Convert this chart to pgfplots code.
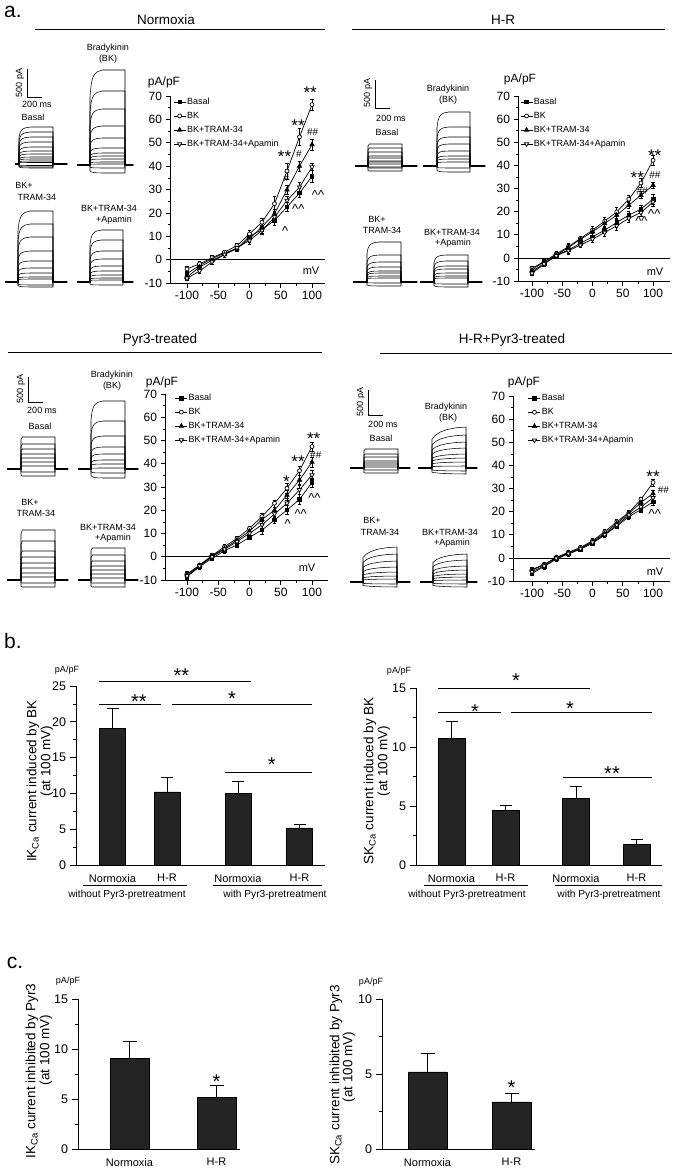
\documentclass[border=0pt]{standalone}
\usepackage{fontspec}
\setmainfont{Liberation Sans}
\usepackage{pgfplots}
\usepackage{pgfplotstable}
\pgfplotsset{compat=1.18}
\newcommand\fsz[1]{\fontsize{#1}{#1}\selectfont}

% ---------- I-V data: x, Basal, BK, BK+TRAM-34, BK+TRAM-34+Apamin (with SEM)
\pgfplotstableread{
x B Be K Ke T Te A Ae
-100 -6 1 -4 1 -7.5 1 -8 1
-80 -2.5 1 -1.8 1 -3.2 1 -4.9 1
-60 0.4 1 0.8 1 -0.3 1 -1 1
-40 2.8 1 3.2 1 2.2 1 2.2 1
-20 4.7 1 6 1 4.7 1 5.1 1
0 10 1.5 11 1.5 9 1.5 8.2 1.5
20 12.8 1.5 16 1.5 14 1.5 12.5 1.5
40 16.8 2 23.9 3 19.6 2 18.2 2
60 22.5 2 37.9 3.5 29.9 2 25.3 2
80 28.5 2 52.5 3.5 40 2 31 2
100 35.6 2.5 66.3 2.5 49.2 2.5 39.6 1.5
}\ivN
\pgfplotstableread{
x B Be K Ke T Te A Ae
-100 -6 1 -4.5 1 -5.3 1 -6.7 1
-80 -2.4 1 -1.6 1 -1.6 1 -2.7 1
-60 1.2 1 1.7 1 1.2 1 0.9 1
-40 3.4 1.5 4.8 1.5 4.5 1.5 3.1 1.5
-20 6.3 1 8.4 1 8 1 5.5 1
0 9.1 1.5 12 1.5 11.3 1.5 8.1 1.5
20 12 1.5 15.9 1.5 14.9 1.5 11 1.5
40 15.3 2 19.9 2 18.5 2 13.9 2
60 18.5 1.5 25.4 1.5 22.8 1.5 17.1 1.5
80 21.1 1.5 32.4 2 27.1 1.5 19.6 1.5
100 25.4 2 42.2 2 31.4 1.5 24.2 2
}\ivH
\pgfplotstableread{
x B Be K Ke T Te A Ae
-100 -8.6 1 -7.4 1 -7.8 1 -8.3 1
-80 -4.3 1 -3.6 1 -3.8 1 -4 1
-60 -0.7 1 0.5 1 0.3 1 0 1
-40 2.6 1 4.3 1 3.6 1 3.2 1
-20 5.1 1 7.9 1 7.2 1 6.5 1
0 8.4 1 12.2 1 11 1 10.1 1
20 11.5 2 17.3 1.5 16 1.5 13.7 1.5
40 15.8 1.5 23 1.5 20 1.5 18.4 1.5
60 20.1 2 29.5 2 26.5 2 23 2
80 24.7 2 37 2 33 2 28.8 2
100 31.9 2 47.4 2 40.7 2 35.2 2
}\ivP
\pgfplotstableread{
x B Be K Ke T Te A Ae
-100 -6.7 1 -5 1 -5.3 1 -6 1
-80 -3.8 1 -2.8 1 -3 1 -3.5 1
-60 -0.5 1 0.2 1 0 1 -0.2 1
-40 1.7 1 2.4 1 2.2 1 1.9 1
-20 3.7 1 4.5 1 4.1 1 4 1
0 6.3 1 7.4 1 7 1 6.7 1
20 9.9 1 11.3 1 10.6 1 10.1 1
40 13.7 1 15.6 1 14.9 1 14.2 1
60 17.8 1 19.6 1 19.2 1 18.5 1
80 20.9 1 25.3 1 24 1 22 1
100 24.2 1.5 32.6 1.5 27.8 1.5 26 1.5
}\ivHP

% ---------- normalised pulse shapes for the current traces
\pgfplotstableread{
t f
-20 0
0 0
0 0.72
0.03 0.84
0.07 0.91
0.12 0.95
0.2 0.98
0.35 1
1 1
1 0
20 0
}\shapeBK
\pgfplotstableread{
t f
-20 0
0 0
0 0.92
0.04 1
1 1
1 0
20 0
}\shapeFlat
\pgfplotstableread{
t f
-20 0
0 0
0 0.7
0.1 0.8
0.25 0.88
0.45 0.94
0.7 0.98
1 1
1 0
20 0
}\shapeSlow

\pgfplotsset{
  iv/.style={scale only axis, anchor=south west, ymin=-10, ymax=70,
    ytick={-10,0,...,70}, minor y tick num=1,
    xtick={-100,-50,0,50,100}, minor x tick num=1,
    axis x line*=bottom, axis y line*=left,
    axis line style={-, line width=0.7pt},
    tick align=outside, major tick length=4.5pt, minor tick length=2.5pt,
    tick style={black, line width=0.6pt},
    tick label style={font=\fsz{12}},
    /pgf/number format/assume math mode=true,
    clip=false, legend cell align=left,
    legend style={draw=none, fill=none, font=\fsz{9}, anchor=north west,
      inner sep=0pt, row sep=2.5pt,
      nodes={inner sep=1pt, text height=7pt, text depth=2.5pt}},
    legend image code/.code={\draw[mark repeat=2, mark phase=2, ##1]
      plot coordinates {(0pt,0pt)(6pt,0pt)(12pt,0pt)};},
  },
  ser/.style={black, line width=0.7pt,
    error bars/y dir=both, error bars/y explicit,
    error bars/error bar style={line width=0.5pt, black},
    error bars/error mark options={rotate=90, mark size=1.6pt, line width=0.5pt, black}},
  basal/.style={ser, mark=square*, mark size=1.8pt},
  bk/.style={ser, mark=*, mark size=2pt, mark options={fill=white}},
  tram/.style={ser, mark=triangle*, mark size=2.5pt},
  apa/.style={ser, mark=triangle*, mark size=2.5pt, mark options={fill=white, rotate=180}},
  bst/.style={scale only axis, anchor=south west, xmin=0, ymin=0,
    axis x line*=bottom, axis y line*=left,
    axis line style={-, line width=0.8pt},
    tick align=outside, minor y tick num=1,
    major tick length=6.5pt, minor tick length=3.5pt,
    x tick style={draw=none}, y tick style={black, line width=0.7pt},
    tick label style={font=\fsz{12.5}},
    xticklabel style={font=\fsz{11}, yshift=1pt},
    /pgf/number format/assume math mode=true, clip=false},
  barst/.style={ybar, fill=black!86, draw=black, line width=0.5pt,
    error bars/y dir=plus, error bars/y explicit,
    error bars/error bar style={line width=0.9pt, black},
    error bars/error mark options={rotate=90, mark size=6pt, line width=0.9pt, black}},
}
\tikzset{
  sig/.style={font=\fsz{17}, inner sep=0pt, yshift=-3.7pt},
  bsig/.style={font=\fsz{20}, inner sep=0pt, yshift=-4.4pt},
  hsh/.style={font=\fsz{10}, inner sep=0pt},
  car/.style={font=\fsz{13}, inner sep=0pt, yshift=-2pt},
  lab/.style={font=\fsz{9}, inner sep=0pt},
}

\newcommand\ivplots[1]{%
  \addplot[basal] table[x=x, y=B, y error=Be] {#1};
  \addplot[bk] table[x=x, y=K, y error=Ke] {#1};
  \addplot[tram] table[x=x, y=T, y error=Te] {#1};
  \addplot[apa] table[x=x, y=A, y error=Ae] {#1};
  \legend{Basal,BK,BK+TRAM-34,BK+TRAM-34+Apamin}}

% #1 left, #2 width, #3 pulse start, #4 pulse end, #5 baseline y, #6 shape, #7 step levels
\newcommand\trace[7]{%
\begin{axis}[hide axis, scale only axis, anchor=south west,
  at={(#1pt,-#5pt-20pt)}, width=#2pt, height=130pt,
  xmin=0, xmax=#2, ymin=-20, ymax=110, clip=true]
\pgfplotsinvokeforeach{#7}{\addplot[black, line width=0.55pt]
  table[x expr={#3+\thisrow{t}*(#4-#3)}, y expr={\thisrow{f}*(##1)}] {#6};}
\addplot[black, line width=2pt] coordinates {(0,0)(#3,0)};
\addplot[black, line width=2pt] coordinates {(#4,0)(#2,0)};
\end{axis}}

\begin{document}
\begin{tikzpicture}
\path[use as bounding box] (0,0) rectangle (675pt,-1170pt);

% ================= panel a: current traces
\trace{15}{52}{4}{38}{164}{\shapeBK}{37,32,27,22,17,13,10,7,5,3,1.5,-1.5,-3,-4}
\trace{77}{56}{13}{48}{165}{\shapeBK}{95,74,56,39,27,17,12,9,6,3,1,-3,-8}
\trace{5}{62}{13}{48}{282}{\shapeBK}{71,58,45,31,21,14,9,5,3,-3,-5}
\trace{77}{56}{13}{46}{282}{\shapeBK}{52,42,31,23,16,11,7,4,2,-3}

\trace{355}{62}{13}{47}{166}{\shapeFlat}{22,18,14,10,8,5,4,2,-1,-2,-5}
\trace{423}{62}{14}{47}{166}{\shapeBK}{54,39,29,22,15,10,7,4,-2,-6}
\trace{353}{64}{14}{48}{282}{\shapeBK}{40,27,20,15,11,9,6,4,-1,-4}
\trace{420}{62}{14}{48}{282}{\shapeBK}{27,21,16,13,9,6,4,-2,-5}

\trace{7}{61}{14}{48}{469}{\shapeFlat}{32,25,20,15,11,7,3,-3,-7}
\trace{78}{60}{13}{47}{469}{\shapeBK}{68,48,33,22,15,9,5,1,-4,-9}
\trace{7}{61}{14}{48}{580}{\shapeFlat}{50,39,29,23,17,12,7,3,-3,-7}
\trace{78}{60}{13}{47}{580}{\shapeFlat}{32,25,19,14,10,6,2,-3,-7}

\trace{350}{60}{14}{48}{468}{\shapeFlat}{19,14,11,7,5,3,1,-2,-5}
\trace{418}{59}{14}{48}{468}{\shapeSlow}{41,33,26,20,14,10,6,2,-3,-6}
\trace{350}{60}{13}{47}{582}{\shapeSlow}{35,28,21,15,10,6,3,-2,-5}
\trace{420}{57}{13}{47}{582}{\shapeSlow}{28,22,16,12,8,5,2,-2,-5}

% ================= panel a: I-V curves
\begin{axis}[iv, at={(170pt,-283pt)}, width=155pt, height=187pt,
  xmin=-127.2, xmax=120.8, legend style={at={(0.02,1.0)}}]
\addplot[black, line width=0.6pt, forget plot] coordinates {(-127.2,0)(120.8,0)};
\ivplots{\ivN}
\node[sig] at (axis cs:97,73) {**};
\node[sig] at (axis cs:77.6,58.9) {**};
\node[sig] at (axis cs:56,45.6) {**};
\node[hsh] at (axis cs:101,54.6) {\#\#};
\node[hsh] at (axis cs:79,45.2) {\#};
\node[hsh] at (axis cs:59,34.9) {\#};
\node[car] at (axis cs:57,13.1) {\^{}};
\node[car] at (axis cs:78,22.5) {\^{}\^{}};
\node[car] at (axis cs:109.6,28.5) {\^{}\^{}};
\end{axis}

\begin{axis}[iv, at={(518pt,-281pt)}, width=152pt, height=185pt,
  xmin=-123.1, xmax=128, legend style={at={(0.013,1.0)}}]
\addplot[black, line width=0.6pt, forget plot] coordinates {(-123.1,0)(128,0)};
\ivplots{\ivH}
\node[sig] at (axis cs:102.8,45.8) {**};
\node[sig] at (axis cs:74,36.5) {**};
\node[hsh] at (axis cs:103,35.8) {\#\#};
\node[hsh] at (axis cs:82,29) {\#\#};
\node[car] at (axis cs:102,20) {\^{}\^{}};
\node[car] at (axis cs:80.7,17) {\^{}\^{}};
\end{axis}

\begin{axis}[iv, at={(165pt,-580pt)}, width=163pt, height=186pt,
  xmin=-135.2, xmax=125.6, legend style={at={(0.06,1.01)}}]
\addplot[black, line width=0.6pt, forget plot] coordinates {(-135.2,0)(125.6,0)};
\ivplots{\ivP}
\node[sig] at (axis cs:102.7,52.5) {**};
\node[sig] at (axis cs:77.6,42.4) {**};
\node[hsh] at (axis cs:106,43.6) {\#\#};
\node[sig] at (axis cs:59,34) {*};
\node[car] at (axis cs:104,26.2) {\^{}\^{}};
\node[car] at (axis cs:82,19.4) {\^{}\^{}};
\node[car] at (axis cs:61,15.1) {\^{}};
\end{axis}

\begin{axis}[iv, at={(513pt,-581pt)}, width=157pt, height=185pt,
  xmin=-131.4, xmax=128, legend style={at={(0.095,1.02)}}]
\addplot[black, line width=0.6pt, forget plot] coordinates {(-131.4,0)(128,0)};
\ivplots{\ivHP}
\node[sig] at (axis cs:100,36.8) {**};
\node[hsh] at (axis cs:117,29.3) {\#\#};
\node[car] at (axis cs:102.8,19.9) {\^{}\^{}};
\end{axis}

% ================= panel b
\begin{axis}[bst, at={(76pt,-865pt)}, width=249pt, height=179pt,
  xmax=249, ymax=25, ytick={0,5,...,25},
  xtick={36.5,91,162,223.5}, xticklabels={Normoxia,H-R,Normoxia,H-R}]
\addplot[barst, bar width=26pt] coordinates {(36.5,19.1) +- (0,2.7) (91,10.2) +- (0,2.0) (162,10.05) +- (0,1.65) (223.5,5.2) +- (0,0.5)};
\addplot[black, line width=0.8pt] coordinates {(23.3,25.6)(174.7,25.6)};
\addplot[black, line width=0.8pt] coordinates {(23.3,22.5)(84.7,22.5)};
\addplot[black, line width=0.8pt] coordinates {(96.3,22.5)(236.3,22.5)};
\addplot[black, line width=0.8pt] coordinates {(149,13.0)(236.3,13.0)};
\node[bsig] at (axis cs:105.5,27.1) {**};
\node[bsig] at (axis cs:63,23.4) {**};
\node[bsig] at (axis cs:156,23.8) {*};
\node[bsig] at (axis cs:195.7,14.7) {*};
\end{axis}

\begin{axis}[bst, at={(416pt,-865pt)}, width=246pt, height=177pt,
  xmax=246, ymax=15, ytick={0,5,10,15},
  xtick={35.5,89.5,160,220.5}, xticklabels={Normoxia,H-R,Normoxia,H-R}]
\addplot[barst, bar width=27pt] coordinates {(35.5,10.74) +- (0,1.46) (89.5,4.6) +- (0,0.44) (160,5.64) +- (0,1.06) (220.5,1.78) +- (0,0.37)};
\addplot[black, line width=0.8pt] coordinates {(22,15.0)(174,15.0)};
\addplot[black, line width=0.8pt] coordinates {(22,12.9)(85,12.9)};
\addplot[black, line width=0.8pt] coordinates {(95,12.9)(236,12.9)};
\addplot[black, line width=0.8pt] coordinates {(147,7.45)(236,7.45)};
\node[bsig] at (axis cs:100,16.0) {*};
\node[bsig] at (axis cs:59,13.4) {*};
\node[bsig] at (axis cs:154,13.6) {*};
\node[bsig] at (axis cs:196,8.1) {**};
\end{axis}

% ================= panel c
\begin{axis}[bst, at={(78pt,-1149pt)}, width=162pt, height=150pt,
  xmax=162, ymax=15, ytick={0,5,10,15},
  xtick={51.5,138.5}, xticklabels={Normoxia,H-R}]
\addplot[barst, bar width=39pt, error bars/error mark options={rotate=90, mark size=7pt, line width=0.9pt, black}] coordinates {(51.5,9.1) +- (0,1.7) (138.5,5.15) +- (0,1.2)};
\node[bsig] at (axis cs:138.5,7.2) {*};
\end{axis}

\begin{axis}[bst, at={(382pt,-1149pt)}, width=153pt, height=150pt,
  xmax=153, ymax=10, ytick={0,5,10},
  xtick={45.5,129.5}, xticklabels={Normoxia,H-R}]
\addplot[barst, bar width=39pt, error bars/error mark options={rotate=90, mark size=7pt, line width=0.9pt, black}] coordinates {(45.5,5.15) +- (0,1.2) (129.5,3.15) +- (0,0.55)};
\node[bsig] at (axis cs:129.5,4.4) {*};
\end{axis}

% ================= text and rules (pixel coordinates, y downwards)
\begin{scope}[x=1pt, y=-1pt]
\node[font=\fsz{21}] at (13,12) {a.};
\node[font=\fsz{21}] at (13,641) {b.};
\node[font=\fsz{21}] at (15,963) {c.};

\node[font=\fsz{13.5}] at (166,20) {Normoxia};
\draw[line width=0.8pt] (35,29) -- (325,29);
\node[font=\fsz{13.5}] at (503,20) {H-R};
\draw[line width=0.8pt] (352,29) -- (665,29);
\node[font=\fsz{13.5}] at (160,340) {Pyr3-treated};
\draw[line width=0.8pt] (8,352) -- (322,352);
\node[font=\fsz{13.5}] at (512,340) {H-R+Pyr3-treated};
\draw[line width=0.8pt] (380,353) -- (672,353);

\foreach \px/\py in {164/82, 520/79, 162/382, 524/382}
  \node[font=\fsz{12}] at (\px,\py) {pA/pF};
\foreach \px/\py in {311/271, 655/272, 307/568, 655/572}
  \node[font=\fsz{11}] at (\px,\py) {mV};

% scale bars
\draw[line width=0.7pt] (27,69) -- (27,97) -- (42,97);
\node[lab, rotate=90] at (20,83) {500 pA};
\node[lab] at (37,104) {200 ms};
\draw[line width=0.7pt] (375,80) -- (375,108) -- (390,108);
\node[lab, rotate=90] at (368,93) {500 pA};
\node[lab] at (391,118) {200 ms};
\draw[line width=0.7pt] (28,377) -- (28,402) -- (43,402);
\node[lab, rotate=90] at (21,389) {500 pA};
\node[lab] at (42,410) {200 ms};
\draw[line width=0.7pt] (368,390) -- (368,415) -- (383,415);
\node[lab, rotate=90] at (361,402) {500 pA};
\node[lab] at (383,424) {200 ms};

% trace labels
\node[lab] at (108,48) {Bradykinin}; \node[lab] at (108,59) {(BK)};
\node[lab] at (33,117) {Basal};
\node[lab] at (24,185) {BK+}; \node[lab] at (37,197) {TRAM-34};
\node[lab] at (109,208) {BK+TRAM-34}; \node[lab] at (114,220) {+Apamin};

\node[lab] at (448,89) {Bradykinin}; \node[lab] at (448,100) {(BK)};
\node[lab] at (387,132) {Basal};
\node[lab] at (377,219) {BK+}; \node[lab] at (382,230) {TRAM-34};
\node[lab] at (452,232) {BK+TRAM-34}; \node[lab] at (453,243) {+Apamin};

\node[lab] at (112,375) {Bradykinin}; \node[lab] at (112,386) {(BK)};
\node[lab] at (40,426) {Basal};
\node[lab] at (30,502) {BK+}; \node[lab] at (36,513) {TRAM-34};
\node[lab] at (108,527) {BK+TRAM-34}; \node[lab] at (113,538) {+Apamin};

\node[lab] at (446,407) {Bradykinin}; \node[lab] at (448,418) {(BK)};
\node[lab] at (381,438) {Basal};
\node[lab] at (372,520) {BK+}; \node[lab] at (380,532) {TRAM-34};
\node[lab] at (450,532) {BK+TRAM-34}; \node[lab] at (452,543) {+Apamin};

% panel b labels
\node[font=\fsz{9}] at (67,670) {pA/pF};
\node[font=\fsz{9}] at (399,671) {pA/pF};
\node[font=\fsz{13.5}, rotate=90] at (33,781) {IK\textsubscript{Ca} current induced by BK};
\node[font=\fsz{13.5}, rotate=90] at (47,761) {(at 100 mV)};
\node[font=\fsz{13.5}, rotate=90] at (370,781) {SK\textsubscript{Ca} current induced by BK};
\node[font=\fsz{13.5}, rotate=90] at (384,761) {(at 100 mV)};
\draw[line width=0.7pt] (83,885) -- (187,885);
\draw[line width=0.7pt] (213,885) -- (322,885);
\draw[line width=0.7pt] (424,885) -- (528,885);
\draw[line width=0.7pt] (555,885) -- (662,885);
\node[font=\fsz{10.2}] at (127,895) {without Pyr3-pretreatment};
\node[font=\fsz{10.2}] at (275,895) {with Pyr3-pretreatment};
\node[font=\fsz{10.2}] at (467,895) {without Pyr3-pretreatment};
\node[font=\fsz{10.2}] at (609,895) {with Pyr3-pretreatment};

% panel c labels
\node[font=\fsz{9}] at (68,981) {pA/pF};
\node[font=\fsz{9}] at (371,982) {pA/pF};
\node[font=\fsz{13.5}, rotate=90] at (32,1071) {IK\textsubscript{Ca} current inhibited by Pyr3};
\node[font=\fsz{13.5}, rotate=90] at (46,1050) {(at 100 mV)};
\node[font=\fsz{13.5}, rotate=90] at (336,1075) {SK\textsubscript{Ca} current inhibited by Pyr3};
\node[font=\fsz{13.5}, rotate=90] at (349,1067) {(at 100 mV)};
\end{scope}
\end{tikzpicture}
\end{document}
